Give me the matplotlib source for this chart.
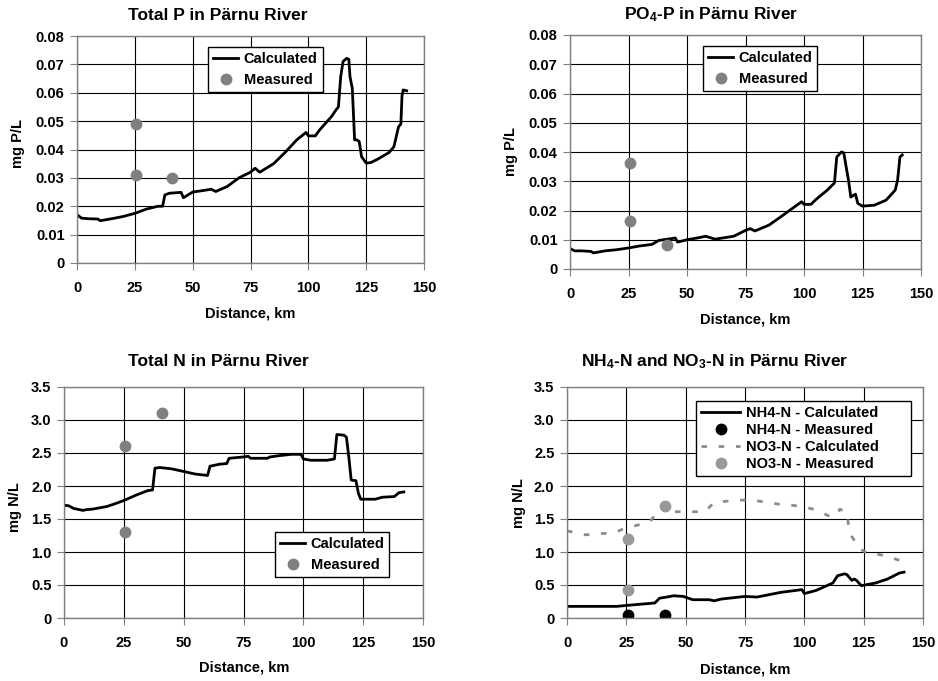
import matplotlib
matplotlib.use("Agg")
import matplotlib.pyplot as plt

plt.rcParams['font.family'] = ['Liberation Sans', 'DejaVu Sans']
plt.rcParams['font.weight'] = 'bold'
plt.rcParams['mathtext.fontset'] = 'custom'
plt.rcParams['mathtext.rm'] = 'Liberation Sans:bold'
plt.rcParams['mathtext.it'] = 'Liberation Sans:bold'
plt.rcParams['mathtext.bf'] = 'Liberation Sans:bold'

# ---- data ----
tp_x = [0, 2, 5, 9, 10, 15, 20, 25, 30, 35, 37, 38, 40, 45, 46, 50, 55, 58, 60, 65, 70, 75, 77, 79,
        85, 90, 95, 99, 100, 103, 105, 110, 112, 113, 114, 115, 116.5, 117.5, 118, 119, 120, 121, 122,
        123, 125, 127, 130, 135, 137, 139, 140, 140.5, 141, 142.5]
tp_y = [0.0170, 0.0158, 0.0156, 0.0155, 0.0149, 0.0156, 0.0164, 0.0175, 0.0190, 0.0200, 0.0200, 0.0240,
        0.0246, 0.0249, 0.0230, 0.0250, 0.0256, 0.0260, 0.0252, 0.0270, 0.0300, 0.0320, 0.0334, 0.0320,
        0.0350, 0.0390, 0.0434, 0.0460, 0.0448, 0.0448, 0.0470, 0.0516, 0.0540, 0.0550, 0.0657, 0.0710,
        0.0721, 0.0718, 0.0657, 0.0616, 0.0434, 0.0434, 0.0428, 0.0375, 0.0352, 0.0354, 0.0366, 0.0390,
        0.0410, 0.0480, 0.0490, 0.0590, 0.0610, 0.0607]
tp_meas_x = [25.5, 25.5, 41]
tp_meas_y = [0.049, 0.031, 0.030]

po4_x = [0, 2, 5, 9, 10, 15, 20, 25, 30, 35, 38, 40, 45, 46, 50, 55, 58, 62, 70, 75, 77, 79, 85, 90,
         95, 99, 100, 103, 105, 110, 113, 114, 116, 117, 118, 119, 120, 122, 123, 125, 130, 135, 137,
         139, 140, 141, 142]
po4_y = [0.0070, 0.0062, 0.0062, 0.0060, 0.0055, 0.0062, 0.0066, 0.0072, 0.0079, 0.0084, 0.0098, 0.0100,
         0.0106, 0.0092, 0.0100, 0.0107, 0.0112, 0.0102, 0.0112, 0.0132, 0.0138, 0.0130, 0.0150, 0.0178,
         0.0207, 0.0230, 0.0221, 0.0221, 0.0237, 0.0270, 0.0294, 0.0383, 0.0400, 0.0397, 0.0350, 0.0304,
         0.0246, 0.0256, 0.0224, 0.0215, 0.0218, 0.0235, 0.0252, 0.0270, 0.0304, 0.0383, 0.0390]
po4_meas_x = [25.5, 25.5, 41.5]
po4_meas_y = [0.0363, 0.0163, 0.0082]

tn_x = [0, 2, 4, 8, 9, 12, 18, 22, 25, 30, 35, 37, 38, 40, 45, 50, 55, 60, 61, 65, 68, 69, 75, 77, 78,
        85, 86, 90, 95, 99, 100, 103, 110, 113, 114, 117, 118, 119, 120, 122, 123, 124, 130, 133, 138,
        140, 142]
tn_y = [1.71, 1.70, 1.66, 1.63, 1.64, 1.65, 1.69, 1.74, 1.78, 1.86, 1.93, 1.94, 2.27, 2.28, 2.26, 2.22,
        2.18, 2.16, 2.30, 2.33, 2.34, 2.42, 2.44, 2.45, 2.42, 2.42, 2.44, 2.46, 2.48, 2.48, 2.41, 2.39,
        2.39, 2.41, 2.78, 2.77, 2.74, 2.44, 2.09, 2.08, 1.89, 1.80, 1.80, 1.83, 1.84, 1.90, 1.91]
tn_meas_x = [25.5, 25.5, 41]
tn_meas_y = [2.6, 1.3, 3.1]

nh4_x = [0, 21, 25, 30, 37, 39, 42, 45, 49, 53, 60, 62, 65, 75, 80, 90, 99, 100, 105, 112, 114, 117,
         118, 120, 121, 122, 124, 130, 135, 140, 142]
nh4_y = [0.176, 0.176, 0.19, 0.206, 0.227, 0.30, 0.317, 0.337, 0.327, 0.277, 0.277, 0.26, 0.287, 0.327,
         0.317, 0.388, 0.43, 0.37, 0.418, 0.53, 0.64, 0.67, 0.655, 0.57, 0.59, 0.57, 0.49, 0.53, 0.59,
         0.68, 0.695]
nh4_meas_x = [25.5, 41.5]
nh4_meas_y = [0.05, 0.04]

no3_x = [0, 8, 15, 20, 23, 27, 35, 38, 41, 44, 50, 58, 62, 70, 77, 85, 90, 97, 100, 105, 110, 113, 115,
         118, 119, 121, 123, 127, 132, 137, 142]
no3_y = [1.32, 1.26, 1.28, 1.29, 1.34, 1.38, 1.46, 1.61, 1.71, 1.61, 1.61, 1.61, 1.75, 1.78, 1.79, 1.75,
         1.72, 1.70, 1.68, 1.64, 1.55, 1.54, 1.65, 1.59, 1.29, 1.18, 1.06, 0.97, 0.96, 0.91, 0.85]
no3_meas_x = [25.5, 25.5, 41.5]
no3_meas_y = [1.2, 0.43, 1.7]

x_ticks = [0, 25, 50, 75, 100, 125, 150]
p_ticks = [0, 0.01, 0.02, 0.03, 0.04, 0.05, 0.06, 0.07, 0.08]
p_labels = ['0', '0.01', '0.02', '0.03', '0.04', '0.05', '0.06', '0.07', '0.08']
n_ticks = [0, 0.5, 1.0, 1.5, 2.0, 2.5, 3.0, 3.5]
n_labels = ['0', '0.5', '1.0', '1.5', '2.0', '2.5', '3.0', '3.5']

W, H = 938, 681
fig = plt.figure(figsize=(W / 100, H / 100), dpi=100)
FS = 10.5
gray = '#808080'


def make_ax(l, t, r, b, yt, yl):
    ax = fig.add_axes([l / W, 1 - b / H, (r - l) / W, (b - t) / H])
    ax.set_xlim(0, 150)
    ax.set_ylim(yt[0], yt[-1])
    ax.set_xticks(x_ticks)
    ax.set_yticks(yt)
    ax.set_yticklabels(yl)
    ax.grid(True, color='black', linewidth=0.8)
    ax.set_axisbelow(True)
    for s in ax.spines.values():
        s.set_color(gray)
        s.set_linewidth(1.0)
    ax.tick_params(labelsize=FS, length=5, color=gray)
    ax.tick_params(axis='y', pad=4)
    ax.tick_params(axis='x', pad=8)
    for lab in ax.get_xticklabels() + ax.get_yticklabels():
        lab.set_fontweight('bold')
    return ax


def add_legend(ax, l, t, r, b, hl=1.7, ls=0.45):
    ax.legend(loc='upper left', bbox_to_anchor=(l / W, 1 - b / H, (r - l) / W, (b - t) / H),
              bbox_transform=fig.transFigure, mode='expand', fancybox=False, edgecolor='black',
              framealpha=1, fontsize=FS, borderaxespad=0, handlelength=hl, handletextpad=0.4,
              labelspacing=ls, borderpad=0.35)


# Total P
ax1 = make_ax(77, 36, 424, 263, p_ticks, p_labels)
ax1.plot(tp_x, tp_y, color='black', lw=2, label='Calculated')
ax1.plot(tp_meas_x, tp_meas_y, 'o', color=gray, ms=7.5, label='Measured')
add_legend(ax1, 208, 47, 323, 92)

# PO4-P
ax2 = make_ax(570, 35, 921, 269, p_ticks, p_labels)
ax2.plot(po4_x, po4_y, color='black', lw=2, label='Calculated')
ax2.plot(po4_meas_x, po4_meas_y, 'o', color=gray, ms=7.5, label='Measured')
add_legend(ax2, 703, 46, 817, 91)

# Total N
ax3 = make_ax(64, 387, 423, 618, n_ticks, n_labels)
ax3.plot(tn_x, tn_y, color='black', lw=2, label='Calculated')
ax3.plot(tn_meas_x, tn_meas_y, 'o', color=gray, ms=7.5, label='Measured')
add_legend(ax3, 275, 532, 389, 577)

# NH4-N and NO3-N
ax4 = make_ax(567, 387, 923, 618, n_ticks, n_labels)
ax4.plot(nh4_x, nh4_y, color='black', lw=2, label='NH4-N - Calculated')
ax4.plot(nh4_meas_x, nh4_meas_y, 'o', color='black', ms=7.5, label='NH4-N - Measured')
ax4.plot(no3_x, no3_y, color='#8c8c8c', lw=2, dashes=(2, 4.2), label='NO3-N - Calculated')
ax4.plot(no3_meas_x, no3_meas_y, 'o', color='#999999', ms=7.5, label='NO3-N - Measured')
add_legend(ax4, 696, 401, 911, 477, hl=2.7, ls=0.2)

titles = [(218, 15, 'Total P in Pärnu River'),
          (711, 15, 'PO$_4$-P in Pärnu River'),
          (218, 362, 'Total N in Pärnu River'),
          (715, 362, 'NH$_4$-N and NO$_3$-N in Pärnu River')]
for x, y, s in titles:
    fig.text(x / W, 1 - y / H, s, ha='center', va='center', fontsize=12.5, fontweight='bold')

xlabels = [(250, 313), (745, 319), (244, 668), (745, 669)]
for x, y in xlabels:
    fig.text(x / W, 1 - y / H, 'Distance, km', ha='center', va='center', fontsize=FS,
             fontweight='bold')

ylabels = [(18, 143, 'mg P/L'), (511, 152, 'mg P/L'), (15, 507, 'mg N/L'), (519, 503, 'mg N/L')]
for x, y, s in ylabels:
    fig.text(x / W, 1 - y / H, s, ha='center', va='center', fontsize=FS, fontweight='bold',
             rotation=90)

fig.savefig('out.png', dpi=100)
